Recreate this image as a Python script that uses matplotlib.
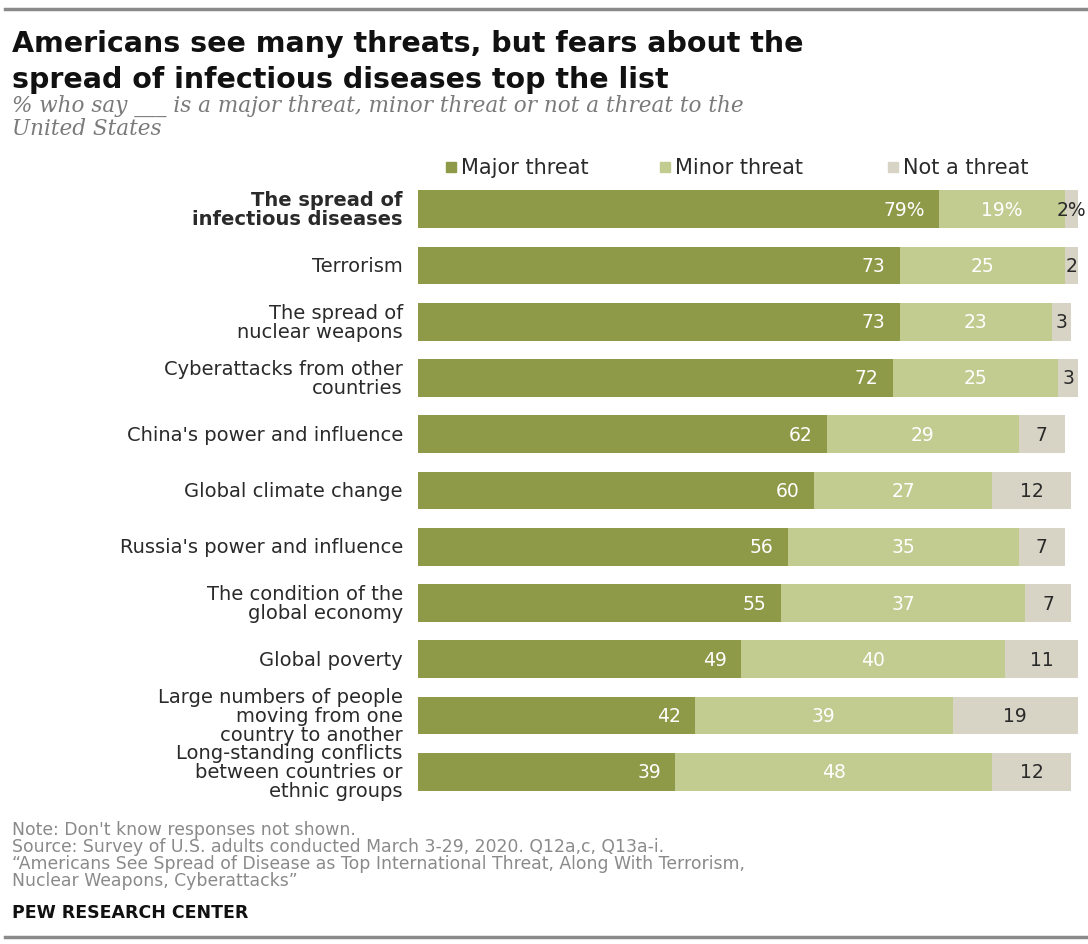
import matplotlib
matplotlib.use("Agg")
import matplotlib.pyplot as plt
from matplotlib.patches import Rectangle
from matplotlib.lines import Line2D

categories = [
    "The spread of\ninfectious diseases",
    "Terrorism",
    "The spread of\nnuclear weapons",
    "Cyberattacks from other\ncountries",
    "China's power and influence",
    "Global climate change",
    "Russia's power and influence",
    "The condition of the\nglobal economy",
    "Global poverty",
    "Large numbers of people\nmoving from one\ncountry to another",
    "Long-standing conflicts\nbetween countries or\nethnic groups",
]
major = [79, 73, 73, 72, 62, 60, 56, 55, 49, 42, 39]
minor = [19, 25, 23, 25, 29, 27, 35, 37, 40, 39, 48]
not_threat = [2, 2, 3, 3, 7, 12, 7, 7, 11, 19, 12]
series_names = ["Major threat", "Minor threat", "Not a threat"]

c_major = "#8e9a47"
c_minor = "#c2cb90"
c_not = "#d7d4c5"

W, H = 1088, 945
fig = plt.figure(figsize=(W / 100, H / 100), dpi=100)
fig.patch.set_facecolor("white")


def fx(px):
    return px / W


def fy(py):
    return 1 - py / H


# Top and bottom rules
fig.add_artist(Line2D([fx(5), 1], [fy(10), fy(10)], color="#8a8a8a", lw=2.5))
fig.add_artist(Line2D([fx(5), 1], [fy(938), fy(938)], color="#8a8a8a", lw=2.5))

# Title
tfont = dict(fontsize=20.5, fontweight="bold", family="DejaVu Sans", va="center",
             ha="left", color="#111111")
fig.text(fx(12), fy(44), "Americans see many threats, but fears about the", **tfont)
fig.text(fx(12), fy(80), "spread of infectious diseases top the list", **tfont)
sfont = dict(fontsize=15.5, style="italic", family="DejaVu Serif", va="center",
             ha="left", color="#7a7a7a")
fig.text(fx(12), fy(106), "% who say ___ is a major threat, minor threat or not a threat to the", **sfont)
fig.text(fx(12), fy(129), "United States", **sfont)

# Axes
top_px, bot_px = 182, 801
left_px, right_px = 418, 1078
ax = fig.add_axes([fx(left_px), fy(bot_px), fx(right_px - left_px), (bot_px - top_px) / H])
ax.set_xlim(0, 100)
ax.set_ylim(len(categories) - 0.5, -0.5)
ax.axis("off")

ys = list(range(len(categories)))
bh = 0.67
ax.barh(ys, major, height=bh, color=c_major, label=series_names[0])
ax.barh(ys, minor, left=major, height=bh, color=c_minor, label=series_names[1])
left2 = [a + b for a, b in zip(major, minor)]
ax.barh(ys, not_threat, left=left2, height=bh, color=c_not, label=series_names[2])

vfont = dict(fontsize=13.5, family="DejaVu Sans", va="center")
for i, y in enumerate(ys):
    suf = "%" if i == 0 else ""
    ax.text(major[i] - 2.2, y, f"{major[i]}{suf}", ha="right", color="white", **vfont)
    ax.text(major[i] + minor[i] / 2, y, f"{minor[i]}{suf}", ha="center", color="white", **vfont)
    ax.text(left2[i] + not_threat[i] / 2, y, f"{not_threat[i]}{suf}", ha="center",
            color="#2a2a2a", clip_on=False, **vfont)
    ax.text(-2.3, y, categories[i], ha="right", va="center", fontsize=14,
            family="DejaVu Sans", color="#2a2a2a", linespacing=1.0,
            fontweight="bold" if i == 0 else "normal")

# Legend
leg_y = fy(168)
items = [(446, c_major, series_names[0]), (660, c_minor, series_names[1]), (888, c_not, series_names[2])]
for xpx, col, name in items:
    fig.add_artist(Rectangle((fx(xpx), leg_y - 5 / H), 10 / W, 10 / H, color=col,
                             transform=fig.transFigure))
    fig.text(fx(xpx + 15), leg_y, name, fontsize=15, family="DejaVu Sans", va="center",
             ha="left", color="#2a2a2a")

# Notes
notes = [
    "Note: Don't know responses not shown.",
    "Source: Survey of U.S. adults conducted March 3-29, 2020. Q12a,c, Q13a-i.",
    "\u201cAmericans See Spread of Disease as Top International Threat, Along With Terrorism,",
    "Nuclear Weapons, Cyberattacks\u201d",
]
for k, t in enumerate(notes):
    fig.text(fx(12), fy(830 + 17 * k), t, fontsize=12.4, family="DejaVu Sans", color="#8a8a8a",
             va="center", ha="left")
fig.text(fx(12), fy(913), "PEW RESEARCH CENTER", fontsize=12.5, fontweight="bold",
         family="DejaVu Sans", color="#111111", va="center", ha="left")

fig.savefig("out.png", dpi=100, facecolor="white")
